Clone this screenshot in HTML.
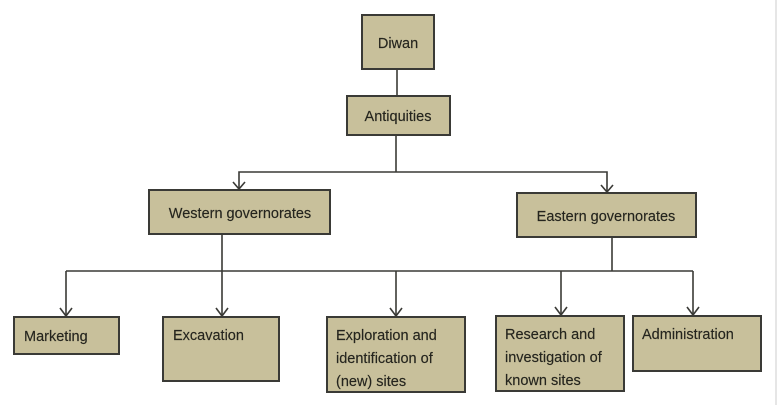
<!DOCTYPE html>
<html><head><meta charset="utf-8"><style>
html,body{margin:0;padding:0;background:#fff;}
svg{display:block;}
text{font-family:"Liberation Sans",sans-serif;font-size:14.5px;fill:#25251e;stroke:#25251e;stroke-width:0.15;}
</style></head><body>
<svg width="778" height="405" viewBox="0 0 778 405" xmlns="http://www.w3.org/2000/svg">
<g fill="#c8c09b" stroke="#3a3a36" stroke-width="2">
<rect x="362" y="15" width="72" height="54"/>
<rect x="347" y="96" width="103" height="39"/>
<rect x="149" y="190" width="181" height="44"/>
<rect x="517" y="193" width="179" height="44"/>
<rect x="14" y="317" width="105" height="37"/>
<rect x="163" y="317" width="116" height="64"/>
<rect x="327" y="317" width="138" height="75"/>
<rect x="496" y="316" width="128" height="75"/>
<rect x="633" y="316" width="128" height="55"/>
</g>
<g stroke="#3a3a36" stroke-width="1.6" fill="none">
<line x1="397" y1="69" x2="397" y2="96"/>
<line x1="396" y1="135" x2="396" y2="172"/>
<polyline points="239,189 239,172 607,172 607,192"/>
<polyline points="233,182 239,189 245,182"/>
<polyline points="601,185 607,192 613,185"/>
<line x1="222" y1="235" x2="222" y2="271"/>
<line x1="612" y1="237" x2="612" y2="271"/>
<line x1="66" y1="271" x2="693" y2="271"/>
<line x1="66" y1="271" x2="66" y2="316"/>
<line x1="222" y1="271" x2="222" y2="316"/>
<line x1="396" y1="271" x2="396" y2="316"/>
<line x1="561" y1="271" x2="561" y2="315"/>
<line x1="693" y1="271" x2="693" y2="315"/>
<polyline points="60,308 66,316 72,308"/>
<polyline points="216,308 222,316 228,308"/>
<polyline points="390,308 396,316 402,308"/>
<polyline points="555,307 561,315 567,307"/>
<polyline points="687,307 693,315 699,307"/>
</g>
<text x="398" y="48" text-anchor="middle">Diwan</text>
<text x="398" y="121" text-anchor="middle">Antiquities</text>
<text x="240" y="218" text-anchor="middle">Western governorates</text>
<text x="606" y="221" text-anchor="middle">Eastern governorates</text>
<text x="24" y="341">Marketing</text>
<text x="173" y="340">Excavation</text>
<text x="336" y="340">Exploration and</text>
<text x="336" y="363">identification of</text>
<text x="336" y="386">(new) sites</text>
<text x="505" y="339">Research and</text>
<text x="505" y="362">investigation of</text>
<text x="505" y="385">known sites</text>
<text x="642" y="339">Administration</text>
<line x1="776" y1="0" x2="776" y2="405" stroke="#ccc" stroke-width="1"/>
</svg>
</body></html>
